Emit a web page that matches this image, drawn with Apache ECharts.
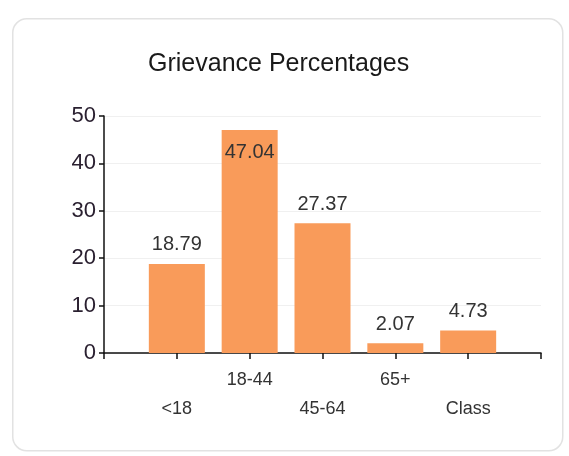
<!DOCTYPE html>
<html>
<head>
<meta charset="utf-8">
<script src="https://cdn.jsdelivr.net/npm/echarts@6/dist/echarts.min.js"></script>
<style>
  html, body { margin: 0; padding: 0; background: #fff; }
  #chart { width: 569px; height: 456px; }
</style>
</head>
<body>
<div id="chart"></div>
<script>
// 类目（两端留空，让柱子落在刻度上）
var categories = ['', '<18', '18-44', '45-64', '65+', 'Class', ''];
var values = [null, 18.79, 47.04, 27.37, 2.07, 4.73, null];
var yTicks = [0, 10, 20, 30, 40, 50];

var myChart = echarts.init(document.getElementById('chart'));

var option = {
	backgroundColor : '#fff',
	animation : false,
	graphic : [ {
		type : 'rect',
		left : 12,
		top : 18,
		shape : { width : 550, height : 432, r : 14 },
		style : { fill : '#fff', stroke : '#e2e2e2', lineWidth : 1.5 },
		z : -10
	} ],
	title : {
		text : 'Grievance Percentages',
		left : 143,
		top : 47,
		textStyle : {
			fontFamily : 'Liberation Sans',
			fontSize : 25,
			fontWeight : 'normal',
			color : '#1a1a1a'
		}
	},
	grid : {
		left : 104,
		right : 28,
		top : 116,
		bottom : 103
	},
	xAxis : {
		type : 'category',
		data : categories,
		boundaryGap : false,
		axisLine : { lineStyle : { color : '#111', width : 1.5 } },
		axisTick : { show : true, length : 6, lineStyle : { color : '#111', width : 1.5 } },
		axisLabel : {
			interval : 0,
			margin : 13,
			fontFamily : 'Liberation Sans',
			fontSize : 18,
			color : '#333',
			lineHeight : 29,
			formatter : function(v, i) {
				// 标签上下交错
				return (i % 2 === 1) ? '\n' + v : v;
			}
		}
	},
	yAxis : {
		type : 'value',
		min : yTicks[0],
		max : yTicks[yTicks.length - 1],
		interval : 10,
		axisLine : { show : true, lineStyle : { color : '#111', width : 1.5 } },
		axisTick : { show : true, length : 5, lineStyle : { color : '#111', width : 1.5 } },
		axisLabel : {
			margin : 8,
			fontFamily : 'Liberation Sans',
			fontSize : 22,
			color : '#2a2030'
		},
		splitLine : { show : true, lineStyle : { color : '#f0f0f0' } }
	},
	series : [ {
		type : 'bar',
		data : values.map(function(v, i) {
			if (v === null) return null;
			return {
				value : v,
				label : { position : v > 45 ? 'insideTop' : 'top', distance : v > 45 ? 12 : 9 }
			};
		}),
		barWidth : 56,
		itemStyle : { color : '#F99B5A' },
		label : {
			show : true,
			fontFamily : 'Liberation Sans',
			fontSize : 20,
			color : '#333',
			formatter : function(p) { return p.value.toFixed(2); }
		}
	} ]
};
myChart.setOption(option);
</script>
</body>
</html>
